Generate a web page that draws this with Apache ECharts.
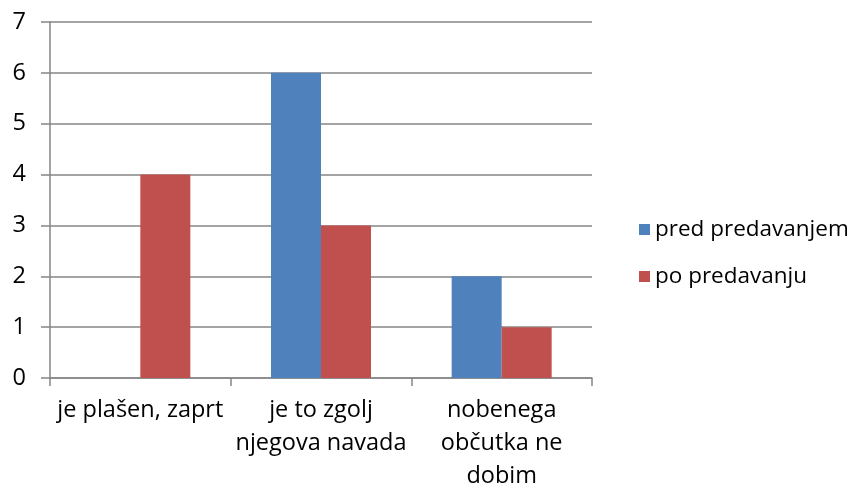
<!DOCTYPE html>
<html>
<head>
<meta charset="utf-8">
<script src="https://cdn.jsdelivr.net/npm/echarts@6/dist/echarts.min.js"></script>
<style>
html,body{margin:0;padding:0;background:#fff;}
#main{width:858px;height:486px;}
</style>
</head>
<body>
<div id="main"></div>
<script>
var categories = ["je plašen, zaprt", "je to zgolj\nnjegova navada", "nobenega\nobčutka ne\ndobim"];
var seriesNames = ["pred predavanjem", "po predavanju"];
var predValues = [0, 6, 2];
var poValues = [4, 3, 1];
var yTicks = {min: 0, max: 7, interval: 1};

var fontFam = "'Open Sans', 'DejaVu Sans', sans-serif";
var gray = "#868686";

var myChart = echarts.init(document.getElementById("main"));
var option = {
    animation: false,
    textStyle: {fontFamily: fontFam},
    grid: {left: 50, right: 266, top: 22, bottom: 108, outerBoundsMode: "none", containLabel: false},
    legend: {
        orient: "vertical",
        left: 634,
        top: 213,
        itemWidth: 11,
        itemHeight: 11,
        itemGap: 24,
        icon: "rect",
        textStyle: {fontFamily: fontFam, fontSize: 22.5, color: "#000"},
        data: seriesNames
    },
    xAxis: {
        type: "category",
        data: categories,
        axisLine: {lineStyle: {color: gray, width: 1.5}},
        axisTick: {show: true, length: 8, lineStyle: {color: gray, width: 1.5}},
        axisLabel: {color: "#000", fontSize: 23.5, margin: 16, lineHeight: 33, interval: 0}
    },
    yAxis: {
        type: "value",
        min: yTicks.min,
        max: yTicks.max,
        interval: yTicks.interval,
        axisLine: {show: true, lineStyle: {color: gray, width: 1.5}},
        axisTick: {show: true, length: 9, lineStyle: {color: gray, width: 1.5}},
        axisLabel: {color: "#000", fontSize: 23.5, margin: 24},
        splitLine: {lineStyle: {color: gray, width: 1.5}}
    },
    series: [
        {name: seriesNames[0], type: "bar", data: predValues, barWidth: 50, barGap: 0,
         itemStyle: {color: "#4F81BD"}},
        {name: seriesNames[1], type: "bar", data: poValues, barWidth: 50, barGap: 0,
         itemStyle: {color: "#C0504D"}}
    ]
};
myChart.setOption(option);
</script>
</body>
</html>
